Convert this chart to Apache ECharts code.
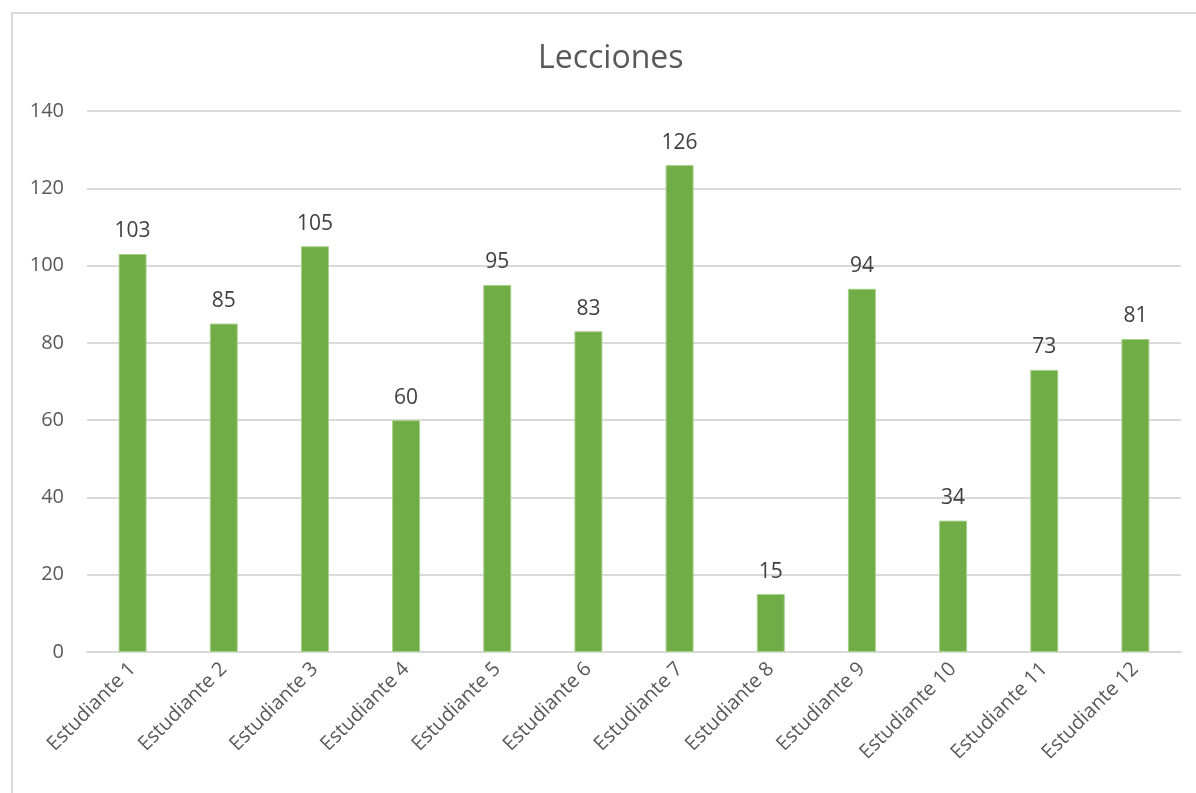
<!DOCTYPE html>
<html>
<head>
<meta charset="utf-8">
<script src="https://cdn.jsdelivr.net/npm/echarts@6/dist/echarts.min.js"></script>
<style>
html,body{margin:0;padding:0;background:#fff;}
#frame{position:absolute;left:11px;top:12px;width:1200px;height:800px;border:2px solid #d9d9d9;box-sizing:border-box;}
#chart{position:absolute;left:0;top:0;width:1196px;height:793px;}
</style>
</head>
<body>
<div id="frame"></div>
<div id="chart"></div>
<script>
const categories = ['Estudiante 1','Estudiante 2','Estudiante 3','Estudiante 4','Estudiante 5','Estudiante 6','Estudiante 7','Estudiante 8','Estudiante 9','Estudiante 10','Estudiante 11','Estudiante 12'];
const lecciones = [103, 85, 105, 60, 95, 83, 126, 15, 94, 34, 73, 81];
const yTicks = {min: 0, max: 140, interval: 20};

const chart = echarts.init(document.getElementById('chart'), null, {renderer:'canvas'});
const font = '"Open Sans", Lato, "Liberation Sans", sans-serif';
chart.setOption({
  animation: false,
  backgroundColor: 'transparent',
  title: {
    text: 'Lecciones', left: 533, top: 38,
    textStyle: {fontFamily: font, fontSize: 32, fontWeight: 'normal', color: '#595959'}
  },
  grid: {left: 87, right: 15, top: 111, bottom: 141, containLabel: false},
  xAxis: {
    type: 'category', data: categories,
    axisLine: {lineStyle: {color: '#d9d9d9', width: 2}},
    axisTick: {show: false},
    axisLabel: {rotate: 45, interval: 0, margin: 14, fontFamily: font, fontSize: 20, color: '#595959'}
  },
  yAxis: {
    type: 'value', min: yTicks.min, max: yTicks.max, interval: yTicks.interval,
    axisLine: {show: false}, axisTick: {show: false},
    splitLine: {lineStyle: {color: '#d9d9d9', width: 2}},
    axisLabel: {margin: 23, fontFamily: font, fontSize: 20, color: '#595959'}
  },
  series: [{
    type: 'bar', data: lecciones, barWidth: 28,
    itemStyle: {color: '#70ad47', borderColor: '#a9d18e', borderWidth: 1},
    label: {show: true, position: 'top', distance: 12, fontFamily: font, fontSize: 21, color: '#404040'}
  }]
});
</script>
</body>
</html>
